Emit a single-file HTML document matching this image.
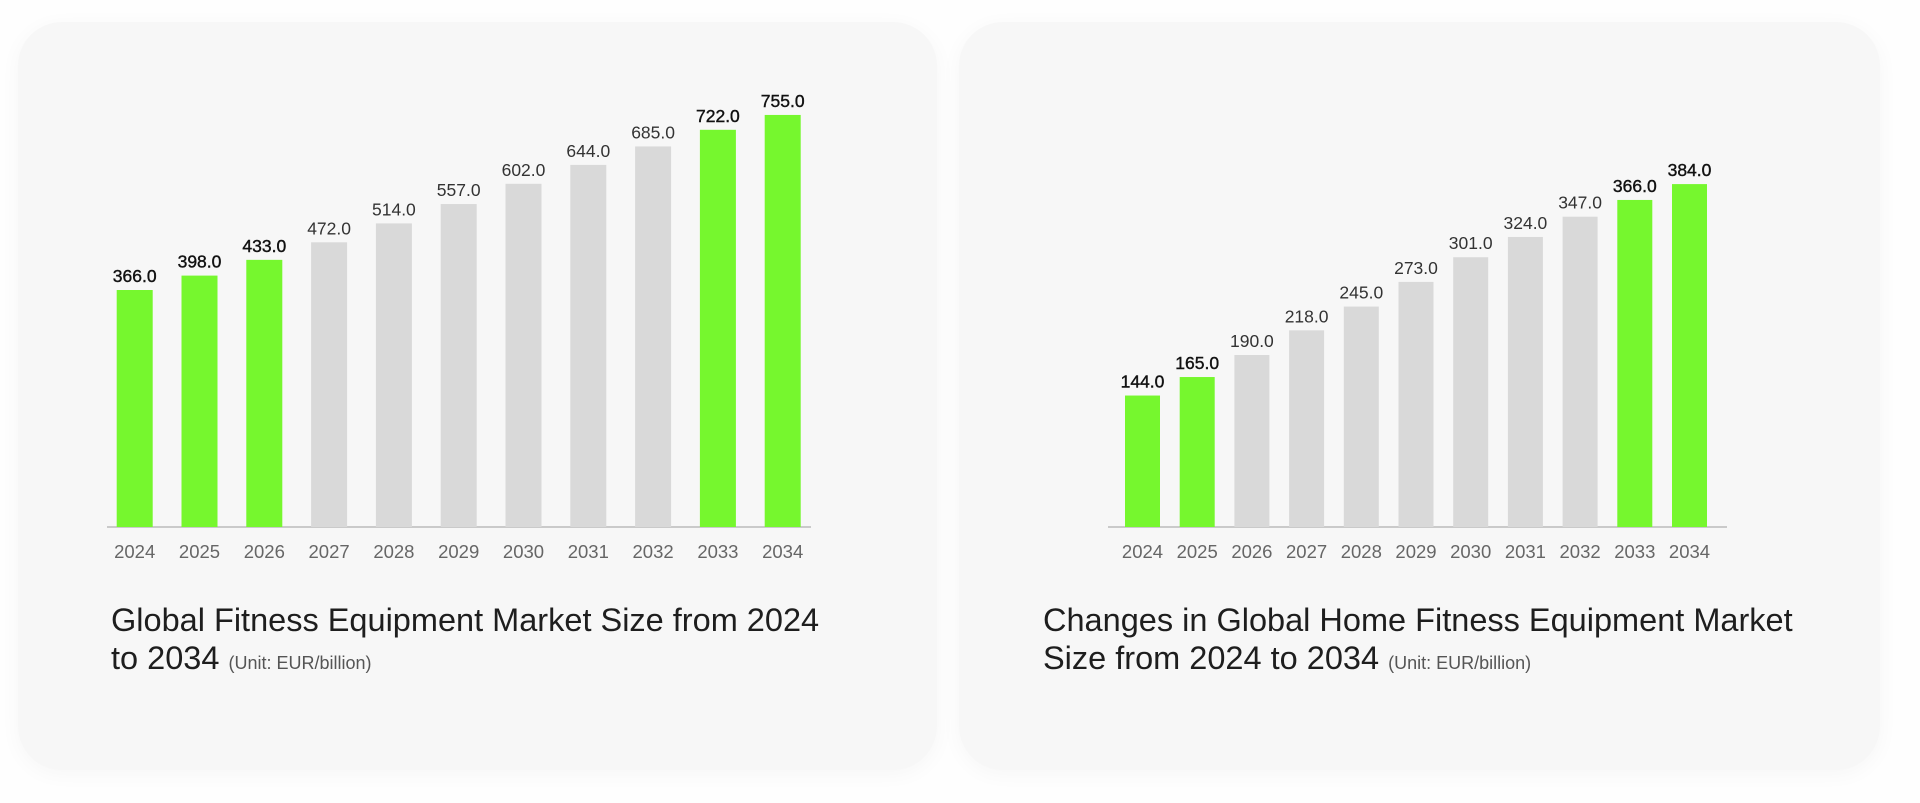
<!DOCTYPE html>
<html><head><meta charset="utf-8"><style>
html,body{margin:0;padding:0;background:#fefefe;}
body{width:1920px;height:803px;position:relative;overflow:hidden;font-family:"Liberation Sans",Arial,sans-serif;}
.card{position:absolute;top:22px;height:748px;background:#f7f7f7;border-radius:44px;box-shadow:0 4px 22px rgba(0,0,0,0.035);}
svg{position:absolute;left:0;top:0;}
.t{position:absolute;font-size:32.5px;line-height:38px;color:#1e1e1e;}
.u{font-size:18px;color:#555;}
</style></head><body>
<div class="card" style="left:18px;width:919px"></div>
<div class="card" style="left:959px;width:921px"></div>
<svg width="1920" height="803" font-family="Liberation Sans, Arial, sans-serif">
<g id="L"></g>
</svg>
<div class="t" style="left:111px;top:601px;width:720px">Global Fitness Equipment Market Size from 2024 to 2034 <span class="u">(Unit: EUR/billion)</span></div>
<div class="t" style="left:1043px;top:601px;width:780px">Changes in Global Home Fitness Equipment Market Size from 2024 to 2034 <span class="u">(Unit: EUR/billion)</span></div>
<script>
var s=document.getElementById('L'),h='';
function chart(x0,dx,w,ax1,ax2,vals,hf,green){
 h+='<line x1="'+ax1+'" y1="527" x2="'+ax2+'" y2="527" stroke="#bbb" stroke-width="1.5"/>';
 for(var i=0;i<11;i++){var c=x0+dx*i,v=vals[i],t=527-hf(v),g=green.indexOf(i)>=0;
  h+='<rect x="'+(c-w/2)+'" y="'+t+'" width="'+w+'" height="'+(527-t)+'" fill="'+(g?'#76f72e':'#d9d9d9')+'"/>';
  h+='<text x="'+c+'" y="'+(t-8)+'" text-anchor="middle" font-size="17.5" fill="'+(g?'#111':'#333')+'"'+(g?' stroke="#111" stroke-width="0.4"':'')+'>'+v.toFixed(1)+'</text>';
  h+='<text x="'+c+'" y="558" text-anchor="middle" font-size="18.5" fill="#666">'+(2024+i)+'</text>';}
}
chart(134.7,64.8,36,107,811,[366,398,433,472,514,557,602,644,685,722,755],function(v){return 72.3+0.45*v},[0,1,2,9,10]);
chart(1142.5,54.7,35,1108,1727,[144,165,190,218,245,273,301,324,347,366,384],function(v){return 4.6+0.881*v},[0,1,9,10]);
s.innerHTML=h;
</script>
</body></html>
